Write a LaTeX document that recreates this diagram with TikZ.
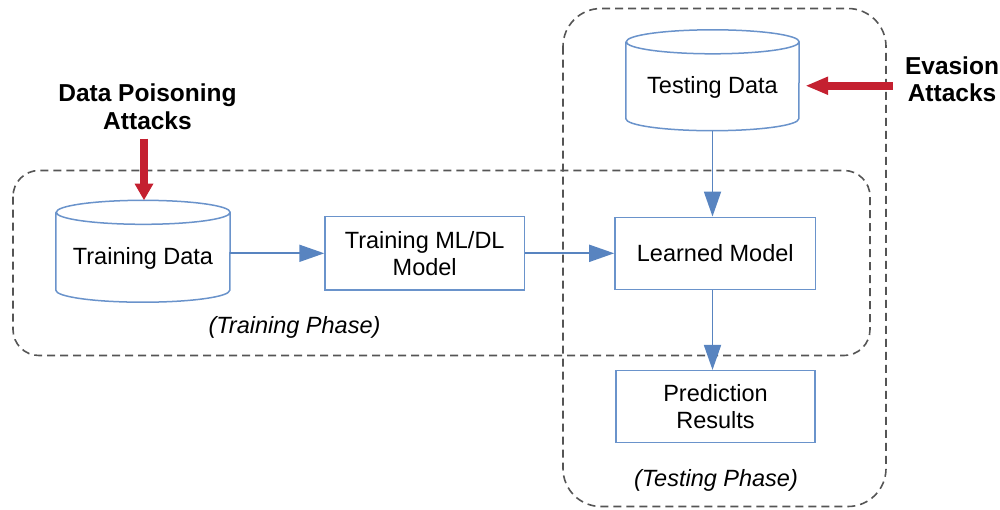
\documentclass[tikz,border=0pt]{standalone}
\usepackage{fontspec}
\setmainfont{Liberation Sans}
\usetikzlibrary{arrows.meta,calc}
\definecolor{boxblue}{HTML}{6A93CB}
\definecolor{arrowblue}{HTML}{5884C0}
\definecolor{attackred}{HTML}{C42030}
\definecolor{framegray}{HTML}{555555}

\tikzset{
  stage/.style={draw=boxblue, line width=1.5pt, fill=white, align=center,
    inner sep=0pt, font=\fontsize{23.5}{27}\selectfont},
  store/.style={inner sep=0pt, text height=36pt, text depth=10pt,
    font=\fontsize{23.5}{27}\selectfont},
  drum/.style={draw=boxblue, line width=1.5pt, fill=white},
  flow/.style={draw=arrowblue, line width=1.8pt,
    -{Triangle[length=25pt,width=17pt]}},
  attack/.style={draw=attackred, line width=8.3pt},
  attacklabel/.style={inner sep=0pt, align=center,
    font=\bfseries\fontsize{24.5}{27.3}\selectfont},
  phase/.style={draw=framegray, line width=1.6pt,
    dash pattern=on 8pt off 5pt},
  phaselabel/.style={inner sep=0pt, font=\itshape\fontsize{23.5}{27}\selectfont},
}

% cylinder outline filling a store node: #1 node name, #2 half width, #3 rim radius
\newcommand\drumoutline[3]{%
  \draw[drum] ([yshift=-#3]#1.north west) -- ([yshift=#3]#1.south west)
    arc[start angle=180,end angle=360,x radius=#2,y radius=#3]
    -- ([yshift=-#3]#1.north east)
    arc[start angle=0,end angle=360,x radius=#2,y radius=#3];}

\begin{document}
\begin{tikzpicture}[x=1pt,y=1pt]
  \useasboundingbox (0,0) rectangle (1000,-509);

  % phase frames
  \draw[phase, rounded corners=26pt] (13,-170.5) rectangle (870,-355.5);
  \draw[phase, rounded corners=38pt] (563,-8.5) rectangle (886,-506.5);

  % data stores
  \node[store, minimum width=174pt, minimum height=101.5pt] (tdata)
    at (143,-251.25) {};
  \drumoutline{tdata}{87pt}{12pt}
  \node[store] at (tdata) {Training Data};

  \node[store, minimum width=173pt, minimum height=100.5pt] (tstore)
    at (712.5,-80.25) {};
  \drumoutline{tstore}{86.5pt}{12pt}
  \node[store] at (tstore) {Testing Data};

  % processing stages
  \node[stage, minimum width=199.3pt, minimum height=73.3pt] (ml)
    at (424.7,-253.3) {Training ML/DL\\Model};
  \node[stage, minimum width=200.7pt, minimum height=72pt] (lm)
    at (715.3,-253.3) {Learned Model};
  \node[stage, minimum width=199pt, minimum height=72pt] (pr)
    at (715.5,-406.7) {Prediction\\Results};

  % data flow
  \draw[flow] (tdata.east |- ml.west) -- (ml.west);
  \draw[flow] (ml.east) -- (lm.west);
  \draw[flow] (tstore.south) -- (tstore.south |- lm.north);
  \draw[flow] (tstore.south |- lm.south) -- (tstore.south |- pr.north);

  % phase captions
  \node[phaselabel, anchor=base] (trainphase) at (294.5,-333) {(Training Phase)};
  \node[phaselabel, anchor=base] (testphase) at (716,-486.7) {(Testing Phase)};

  % attacks
  \node[attacklabel, anchor=north] (poison) at (147.5,-84) {Data Poisoning\\Attacks};
  \node[attacklabel, anchor=north] (evasion) at (952,-56.5) {Evasion\\Attacks};

  \coordinate (tdtop) at ([xshift=1pt]tdata.north);
  \coordinate (poisonstart) at ([yshift=-9pt]poison.south);
  \draw[attack, -{Triangle[length=16.7pt,width=17.7pt]}]
    (tdtop |- poisonstart) -- (tdtop);

  \coordinate (evtip) at ([xshift=6pt,yshift=-5.5pt]tstore.east);
  \path (evasion.west |- evtip) ++(-12pt,0) coordinate (evtail);
  \draw[attack, -{Triangle[length=23pt,width=16.7pt]}] (evtail) -- (evtip);
\end{tikzpicture}
\end{document}
